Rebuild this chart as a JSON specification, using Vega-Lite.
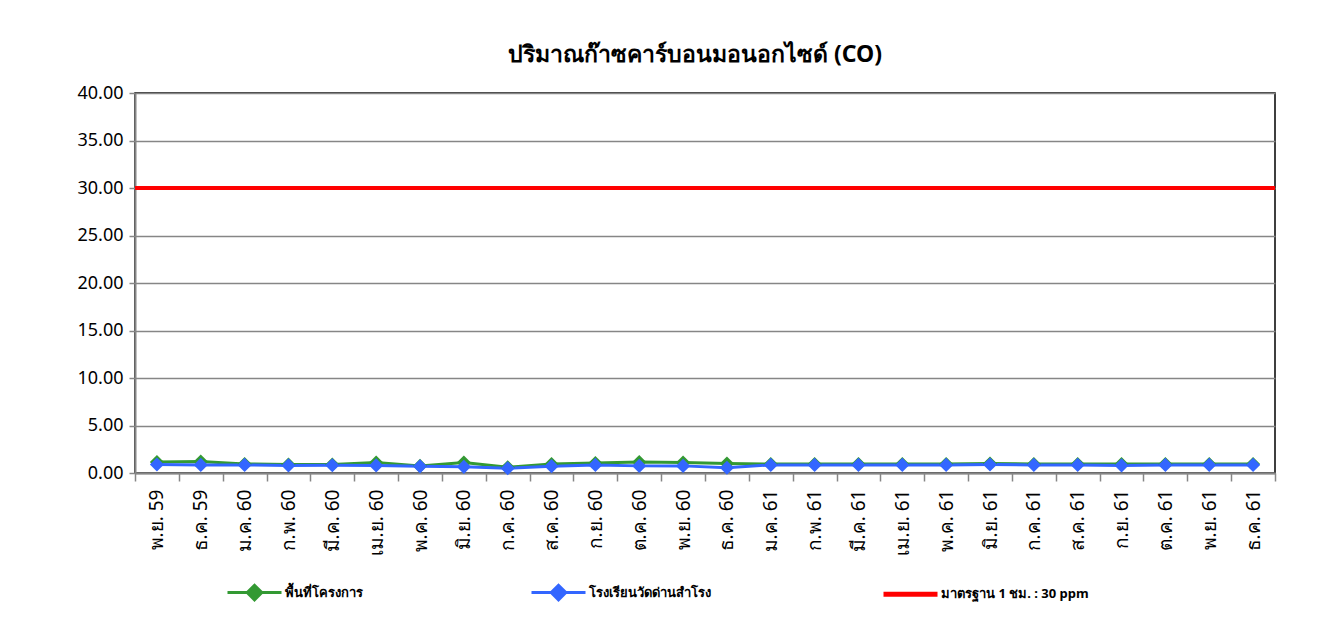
{
  "$schema": "https://vega.github.io/schema/vega-lite/v6.json",
  "autosize": {"type": "none"},
  "width": 1140,
  "height": 380,
  "padding": {"left": 135, "top": 93, "right": 50, "bottom": 155},
  "background": "white",
  "config": {
    "font": "Noto Sans",
    "view": {"stroke": "#000000", "strokeWidth": 1.5},
    "axis": {"labelFont": "Noto Sans", "titleFont": "Noto Sans"}
  },
  "title": {
    "text": "ปริมาณก๊าซคาร์บอนมอนอกไซด์ (CO)",
    "fontSize": 23,
    "fontWeight": "bold",
    "color": "#000000",
    "anchor": "middle",
    "offset": 17,
    "dx": -10
  },
  "datasets": {
    "co": [
      {"month": "พ.ย. 59", "series": "พื้นที่โครงการ", "value": 1.15},
      {"month": "ธ.ค. 59", "series": "พื้นที่โครงการ", "value": 1.2},
      {"month": "ม.ค. 60", "series": "พื้นที่โครงการ", "value": 0.95},
      {"month": "ก.พ. 60", "series": "พื้นที่โครงการ", "value": 0.9},
      {"month": "มี.ค. 60", "series": "พื้นที่โครงการ", "value": 0.9},
      {"month": "เม.ย. 60", "series": "พื้นที่โครงการ", "value": 1.1},
      {"month": "พ.ค. 60", "series": "พื้นที่โครงการ", "value": 0.75},
      {"month": "มิ.ย. 60", "series": "พื้นที่โครงการ", "value": 1.1},
      {"month": "ก.ค. 60", "series": "พื้นที่โครงการ", "value": 0.6},
      {"month": "ส.ค. 60", "series": "พื้นที่โครงการ", "value": 0.95},
      {"month": "ก.ย. 60", "series": "พื้นที่โครงการ", "value": 1.05},
      {"month": "ต.ค. 60", "series": "พื้นที่โครงการ", "value": 1.15},
      {"month": "พ.ย. 60", "series": "พื้นที่โครงการ", "value": 1.1},
      {"month": "ธ.ค. 60", "series": "พื้นที่โครงการ", "value": 1.0},
      {"month": "ม.ค. 61", "series": "พื้นที่โครงการ", "value": 0.95},
      {"month": "ก.พ. 61", "series": "พื้นที่โครงการ", "value": 0.95},
      {"month": "มี.ค. 61", "series": "พื้นที่โครงการ", "value": 0.95},
      {"month": "เม.ย. 61", "series": "พื้นที่โครงการ", "value": 0.95},
      {"month": "พ.ค. 61", "series": "พื้นที่โครงการ", "value": 0.95},
      {"month": "มิ.ย. 61", "series": "พื้นที่โครงการ", "value": 1.0},
      {"month": "ก.ค. 61", "series": "พื้นที่โครงการ", "value": 0.95},
      {"month": "ส.ค. 61", "series": "พื้นที่โครงการ", "value": 0.95},
      {"month": "ก.ย. 61", "series": "พื้นที่โครงการ", "value": 0.95},
      {"month": "ต.ค. 61", "series": "พื้นที่โครงการ", "value": 0.95},
      {"month": "พ.ย. 61", "series": "พื้นที่โครงการ", "value": 0.95},
      {"month": "ธ.ค. 61", "series": "พื้นที่โครงการ", "value": 0.95},
      {"month": "พ.ย. 59", "series": "โรงเรียนวัดด่านสำโรง", "value": 0.9},
      {"month": "ธ.ค. 59", "series": "โรงเรียนวัดด่านสำโรง", "value": 0.85},
      {"month": "ม.ค. 60", "series": "โรงเรียนวัดด่านสำโรง", "value": 0.85},
      {"month": "ก.พ. 60", "series": "โรงเรียนวัดด่านสำโรง", "value": 0.8},
      {"month": "มี.ค. 60", "series": "โรงเรียนวัดด่านสำโรง", "value": 0.82},
      {"month": "เม.ย. 60", "series": "โรงเรียนวัดด่านสำโรง", "value": 0.8},
      {"month": "พ.ค. 60", "series": "โรงเรียนวัดด่านสำโรง", "value": 0.7},
      {"month": "มิ.ย. 60", "series": "โรงเรียนวัดด่านสำโรง", "value": 0.65},
      {"month": "ก.ค. 60", "series": "โรงเรียนวัดด่านสำโรง", "value": 0.5},
      {"month": "ส.ค. 60", "series": "โรงเรียนวัดด่านสำโรง", "value": 0.72},
      {"month": "ก.ย. 60", "series": "โรงเรียนวัดด่านสำโรง", "value": 0.85},
      {"month": "ต.ค. 60", "series": "โรงเรียนวัดด่านสำโรง", "value": 0.75},
      {"month": "พ.ย. 60", "series": "โรงเรียนวัดด่านสำโรง", "value": 0.75},
      {"month": "ธ.ค. 60", "series": "โรงเรียนวัดด่านสำโรง", "value": 0.55},
      {"month": "ม.ค. 61", "series": "โรงเรียนวัดด่านสำโรง", "value": 0.85},
      {"month": "ก.พ. 61", "series": "โรงเรียนวัดด่านสำโรง", "value": 0.85},
      {"month": "มี.ค. 61", "series": "โรงเรียนวัดด่านสำโรง", "value": 0.85},
      {"month": "เม.ย. 61", "series": "โรงเรียนวัดด่านสำโรง", "value": 0.85},
      {"month": "พ.ค. 61", "series": "โรงเรียนวัดด่านสำโรง", "value": 0.85},
      {"month": "มิ.ย. 61", "series": "โรงเรียนวัดด่านสำโรง", "value": 0.9},
      {"month": "ก.ค. 61", "series": "โรงเรียนวัดด่านสำโรง", "value": 0.85},
      {"month": "ส.ค. 61", "series": "โรงเรียนวัดด่านสำโรง", "value": 0.85},
      {"month": "ก.ย. 61", "series": "โรงเรียนวัดด่านสำโรง", "value": 0.8},
      {"month": "ต.ค. 61", "series": "โรงเรียนวัดด่านสำโรง", "value": 0.85},
      {"month": "พ.ย. 61", "series": "โรงเรียนวัดด่านสำโรง", "value": 0.85},
      {"month": "ธ.ค. 61", "series": "โรงเรียนวัดด่านสำโรง", "value": 0.85}
    ],
    "standard": [
      {"series": "มาตรฐาน 1 ชม. : 30 ppm", "value": 30}
    ]
  },
  "layer": [
    {
      "data": {"name": "co"},
      "mark": {"type": "line", "strokeWidth": 3, "interpolate": "linear"},
      "encoding": {
        "x": {
          "field": "month", "type": "nominal", "sort": null,
          "scale": {"type": "band", "paddingInner": 0, "paddingOuter": 0},
          "axis": {
            "title": null,
            "labelAngle": 270,
            "labelAlign": "right",
            "labelBaseline": "middle",
            "labelFontSize": 19,
            "labelColor": "#000000",
            "labelPadding": 8,
            "tickBand": "extent",
            "tickSize": 8,
            "tickColor": "#868686",
            "tickWidth": 1.5,
            "domainColor": "#868686",
            "domainWidth": 2,
            "grid": false
          }
        },
        "y": {
          "field": "value", "type": "quantitative",
          "scale": {"domain": [0, 40], "nice": false},
          "axis": {
            "title": null,
            "values": [0, 5, 10, 15, 20, 25, 30, 35, 40],
            "format": ".2f",
            "labelFontSize": 18,
            "labelColor": "#000000",
            "labelPadding": 6,
            "tickSize": 6,
            "tickColor": "#868686",
            "tickWidth": 1.5,
            "domainColor": "#868686",
            "domainWidth": 2,
            "grid": true,
            "gridColor": "#868686",
            "gridWidth": 1.5
          }
        },
        "color": {
          "field": "series", "type": "nominal",
          "scale": {
            "domain": ["พื้นที่โครงการ", "โรงเรียนวัดด่านสำโรง", "มาตรฐาน 1 ชม. : 30 ppm"],
            "range": ["#339933", "#3366ff", "#ff0000"]
          },
          "legend": {
            "title": null,
            "orient": "none",
            "direction": "horizontal",
            "legendX": 113,
            "legendY": 493,
            "columnPadding": 162,
            "labelFontSize": 13,
            "labelFontWeight": "bold",
            "labelColor": "#000000",
            "labelOffset": 24,
            "labelLimit": 400,
            "symbolSize": 2916,
            "encode": {
              "symbols": {
                "update": {
                  "shape": {"signal": "datum.value == 'มาตรฐาน 1 ชม. : 30 ppm' ? 'M-1,0L1,0' : 'M-1,0L1,0M-0.27,0L0,-0.27L0.27,0L0,0.27Z'"},
                  "strokeWidth": {"signal": "datum.value == 'มาตรฐาน 1 ชม. : 30 ppm' ? 5 : 3"},
                  "fill": {"scale": "color", "field": "value"},
                  "stroke": {"scale": "color", "field": "value"},
                  "opacity": {"value": 1},
                  "fillOpacity": {"value": 1}
                }
              }
            }
          }
        }
      }
    },
    {
      "data": {"name": "co"},
      "mark": {"type": "point", "shape": "diamond", "filled": true, "size": 200, "opacity": 1},
      "encoding": {
        "x": {"field": "month", "type": "nominal", "sort": null},
        "y": {"field": "value", "type": "quantitative"},
        "color": {"field": "series", "type": "nominal"}
      }
    },
    {
      "data": {"name": "standard"},
      "mark": {"type": "rule", "strokeWidth": 4},
      "encoding": {
        "y": {"field": "value", "type": "quantitative"},
        "color": {"field": "series", "type": "nominal"}
      }
    }
  ]
}
